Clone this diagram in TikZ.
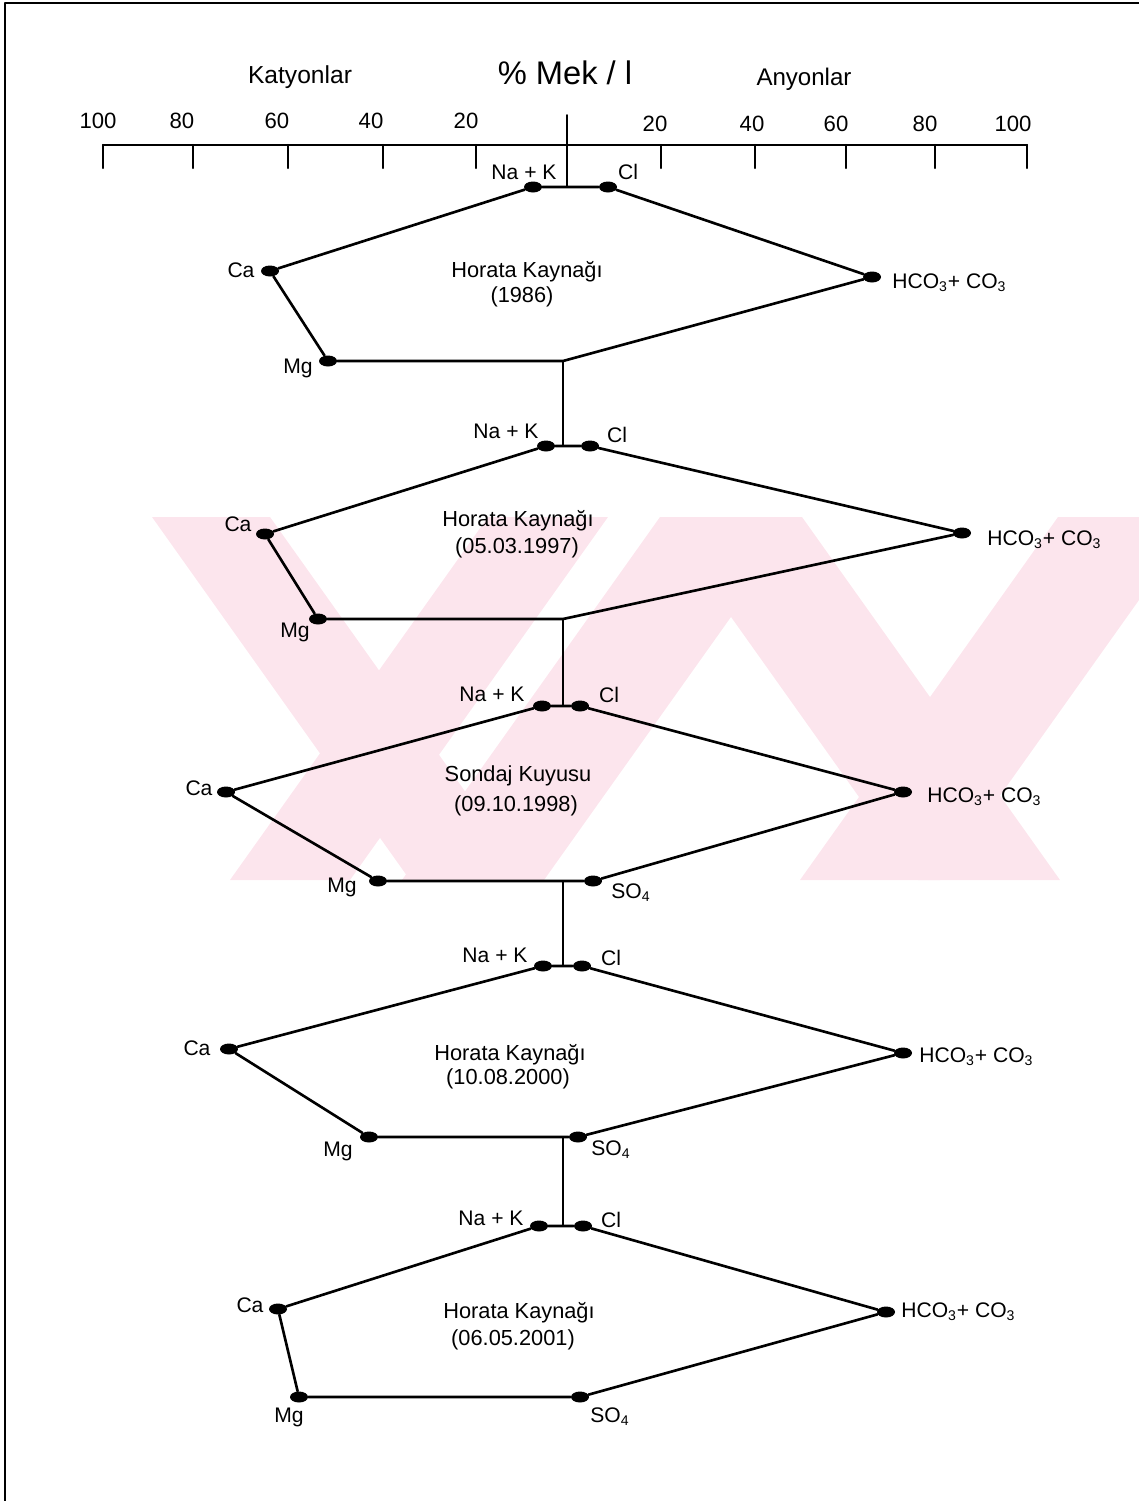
\documentclass[tikz,border=0pt]{standalone}
\usepackage{fontspec}
\setmainfont{Liberation Sans}
\usetikzlibrary{shapes.geometric}
\definecolor{ffe6ec}{rgb}{0.99,0.90,0.93}

\begin{document}
\begin{tikzpicture}[line cap=round,line join=round,x=0.02cm,y=-0.02cm,
    ion/.style={ellipse,fill=black,inner sep=0pt,minimum width=0.36cm,minimum height=0.22cm},
    lbl/.style={font=\fontsize{12}{14}\selectfont,inner sep=0pt},
    site/.style={font=\fontsize{12.4}{14}\selectfont,inner sep=0pt},
    poly/.style={line width=1.5pt},
    stem/.style={line width=1pt}]
    \useasboundingbox (0,0) rectangle (1139,1501);
    % watermark
    \begin{scope}
      \clip (0,517) rectangle (1139,880);
      \fill[ffe6ec] (152,517) -- (270,517) -- (528,880) -- (410,880) -- cycle;
      \fill[ffe6ec] (230,880) -- (350,880) -- (608,517) -- (488,517) -- cycle;
      \fill[ffe6ec] (402,880) -- (544,880) -- (802,517) -- (660,517) -- cycle;
      \fill[ffe6ec] (660,517) -- (802,517) -- (1060,880) -- (918,880) -- cycle;
      \fill[ffe6ec] (800,880) -- (940,880) -- (1198,517) -- (1058,517) -- cycle;
    \end{scope}
    % frame
    \draw[line width=1.7pt] (5,1501)-- (5,3)-- (1139,3);
    % scale
    \draw[line width=1.3pt] (103,145)-- (1027,145);
    \foreach \t in {103,193,288,383,476,661,755,846,935,1027}
      \draw[line width=1.3pt] (\t,145)-- (\t,168);
    \foreach \t/\v in {98/100,182/80,277/60,371/40,466/20}
      \node[lbl,font=\fontsize{12.6}{14}\selectfont] (tl\v) at (\t,121) {\v};
    \foreach \t/\v in {655/20,752/40,836/60,925/80,1013/100}
      \node[lbl,font=\fontsize{12.6}{14}\selectfont] (tr\v) at (\t,124) {\v};
    \node[lbl,font=\fontsize{14}{16}\selectfont] (katyon) at (300,77) {Katyonlar};
    \node[lbl,font=\fontsize{18.6}{20}\selectfont] (mek) at (565,73) {\% Mek / l};
    \node[lbl,font=\fontsize{13.7}{16}\selectfont] (anyon) at (804,79) {Anyonlar};
    \coordinate (axtop) at (567,115);
    \coordinate (m1) at (567,187);
    \draw[stem] (axtop)-- (m1);
    % Horata Kaynagi (1986)
    \node[ion] (nak1) at (533,187) {};
    \node[ion] (cl1) at (608,187) {};
    \node[ion] (ca1) at (270,271) {};
    \node[ion] (hco1) at (872,277) {};
    \node[ion] (mg1) at (328,361) {};
    \coordinate (so1) at (563,361);
    \draw[poly] (nak1)-- (cl1)-- (hco1)-- (so1)-- (mg1)-- (ca1)-- (nak1);
    \node[lbl] (tnak1) at (524,172) {Na + K};
    \node[lbl] (tcl1) at (628,172) {Cl};
    \node[lbl] (tca1) at (241,270) {Ca};
    \node[lbl] (tmg1) at (298,368) {Mg};
    \node[lbl,anchor=west] (thco1) at (892,283) {HCO\textsubscript{3}+ CO\textsubscript{3}};
    \node[site] (site1) at (527,272) {Horata Kaynağı};
    \node[site] (date1) at (522,297) {(1986)};
    % Horata Kaynagi (05.03.1997)
    \coordinate (m2) at (563,446);
    \draw[stem] (so1)-- (m2);
    \node[ion] (nak2) at (546,446) {};
    \node[ion] (cl2) at (590,446) {};
    \node[ion] (ca2) at (265,534) {};
    \node[ion] (hco2) at (962,533) {};
    \node[ion] (mg2) at (318,619) {};
    \coordinate (so2) at (563,619);
    \draw[poly] (nak2)-- (cl2)-- (hco2)-- (so2)-- (mg2)-- (ca2)-- (nak2);
    \node[lbl] (tnak2) at (506,431) {Na + K};
    \node[lbl] (tcl2) at (617,435) {Cl};
    \node[lbl] (tca2) at (238,524) {Ca};
    \node[lbl] (tmg2) at (295,632) {Mg};
    \node[lbl,anchor=west] (thco2) at (987,540) {HCO\textsubscript{3}+ CO\textsubscript{3}};
    \node[site] (site2) at (518,521) {Horata Kaynağı};
    \node[site] (date2) at (517,548) {(05.03.1997)};
    % Sondaj Kuyusu (09.10.1998)
    \coordinate (m3) at (563,706);
    \draw[stem] (so2)-- (m3);
    \node[ion] (nak3) at (542,706) {};
    \node[ion] (cl3) at (580,706) {};
    \node[ion] (ca3) at (226,792) {};
    \node[ion] (hco3) at (903,792) {};
    \node[ion] (mg3) at (378,881) {};
    \node[ion] (so3) at (593,881) {};
    \draw[poly] (nak3)-- (cl3)-- (hco3)-- (so3)-- (mg3)-- (ca3)-- (nak3);
    \node[lbl] (tnak3) at (492,694) {Na + K};
    \node[lbl] (tcl3) at (609,695) {Cl};
    \node[lbl] (tca3) at (199,788) {Ca};
    \node[lbl] (tmg3) at (342,887) {Mg};
    \node[lbl] (tso3) at (631,893) {SO\textsubscript{4}};
    \node[lbl,anchor=west] (thco3) at (927,797) {HCO\textsubscript{3}+ CO\textsubscript{3}};
    \node[site] (site3) at (518,776) {Sondaj Kuyusu};
    \node[site] (date3) at (516,806) {(09.10.1998)};
    % Horata Kaynagi (10.08.2000)
    \coordinate (b3) at (563,881);
    \coordinate (m4) at (563,966);
    \draw[stem] (b3)-- (m4);
    \node[ion] (nak4) at (543,966) {};
    \node[ion] (cl4) at (582,966) {};
    \node[ion] (ca4) at (229,1049) {};
    \node[ion] (hco4) at (903,1053) {};
    \node[ion] (mg4) at (369,1137) {};
    \node[ion] (so4) at (578,1137) {};
    \draw[poly] (nak4)-- (cl4)-- (hco4)-- (so4)-- (mg4)-- (ca4)-- (nak4);
    \node[lbl] (tnak4) at (495,955) {Na + K};
    \node[lbl] (tcl4) at (611,958) {Cl};
    \node[lbl] (tca4) at (197,1048) {Ca};
    \node[lbl] (tmg4) at (338,1151) {Mg};
    \node[lbl] (tso4) at (611,1150) {SO\textsubscript{4}};
    \node[lbl,anchor=west] (thco4) at (919,1057) {HCO\textsubscript{3}+ CO\textsubscript{3}};
    \node[site] (site4) at (510,1055) {Horata Kaynağı};
    \node[site] (date4) at (508,1079) {(10.08.2000)};
    % Horata Kaynagi (06.05.2001)
    \coordinate (b4) at (563,1137);
    \coordinate (m5) at (563,1226);
    \draw[stem] (b4)-- (m5);
    \node[ion] (nak5) at (539,1226) {};
    \node[ion] (cl5) at (583,1226) {};
    \node[ion] (ca5) at (278,1309) {};
    \node[ion] (hco5) at (886,1312) {};
    \node[ion] (mg5) at (299,1397) {};
    \node[ion] (so5) at (580,1397) {};
    \draw[poly] (nak5)-- (cl5)-- (hco5)-- (so5)-- (mg5)-- (ca5)-- (nak5);
    \node[lbl] (tnak5) at (491,1218) {Na + K};
    \node[lbl] (tcl5) at (611,1220) {Cl};
    \node[lbl] (tca5) at (250,1305) {Ca};
    \node[lbl] (tmg5) at (289,1417) {Mg};
    \node[lbl] (tso5) at (610,1417) {SO\textsubscript{4}};
    \node[lbl,anchor=west] (thco5) at (901,1312) {HCO\textsubscript{3}+ CO\textsubscript{3}};
    \node[site] (site5) at (519,1313) {Horata Kaynağı};
    \node[site] (date5) at (513,1340) {(06.05.2001)};
\end{tikzpicture}
\end{document}
